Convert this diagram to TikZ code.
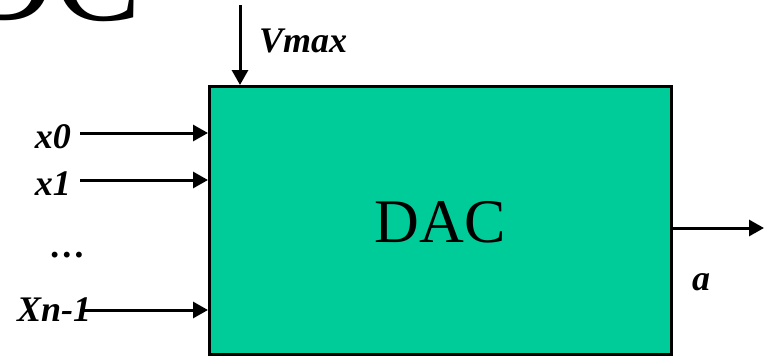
\documentclass[tikz,border=0pt]{standalone}
\usepackage{fontspec}
\setmainfont{Liberation Serif}
\usetikzlibrary{arrows.meta}
\definecolor{dacgreen}{RGB}{0,204,153}
\tikzset{
  sig/.style={line width=3pt, -{Triangle[length=15pt,width=16pt]}},
  lbl/.style={font=\fontsize{36}{40}\selectfont\bfseries\itshape, inner sep=0pt},
}
\begin{document}
\begin{tikzpicture}[x=1pt,y=-1pt]
\useasboundingbox (0,0) rectangle (764,357);
\clip (0,0) rectangle (764,357);
\node[anchor=base west, inner sep=0pt, font=\fontsize{130}{130}\selectfont] (title) at (-40,20) {DC};
\node[draw=black, fill=dacgreen, line width=3pt, minimum width=462pt, minimum height=268pt, inner sep=0pt] (box) at (440.5,220.5) {};
\node[inner sep=0pt, font=\fontsize{62}{62}\selectfont] (dac) at (440,222.5) {DAC};
% Vmax
\coordinate (vtop) at (240,5);
\draw[sig] (vtop) -- (vtop |- box.north);
\node[lbl, anchor=base west] (vmax) at (259,52) {Vmax};
% inputs
\coordinate (i0) at (80,133);
\coordinate (i1) at (80,180);
\coordinate (i2) at (80,310);
\draw[sig] (i0) -- (i0 -| box.west);
\draw[sig] (i1) -- (i1 -| box.west);
\draw[sig] (i2) -- (i2 -| box.west);
\node[lbl, anchor=east] (x0) at (71,137) {x0};
\node[lbl, anchor=east] (x1) at (71,184) {x1};
\node[lbl] (dots) at (68,255) {\dots};
\node[lbl, anchor=west] (xn) at (17,310) {Xn-1};
% output
\coordinate (o) at (764,228);
\draw[sig] (o -| box.east) -- (o);
\node[lbl, anchor=base] (a) at (701,290) {a};
\end{tikzpicture}
\end{document}
